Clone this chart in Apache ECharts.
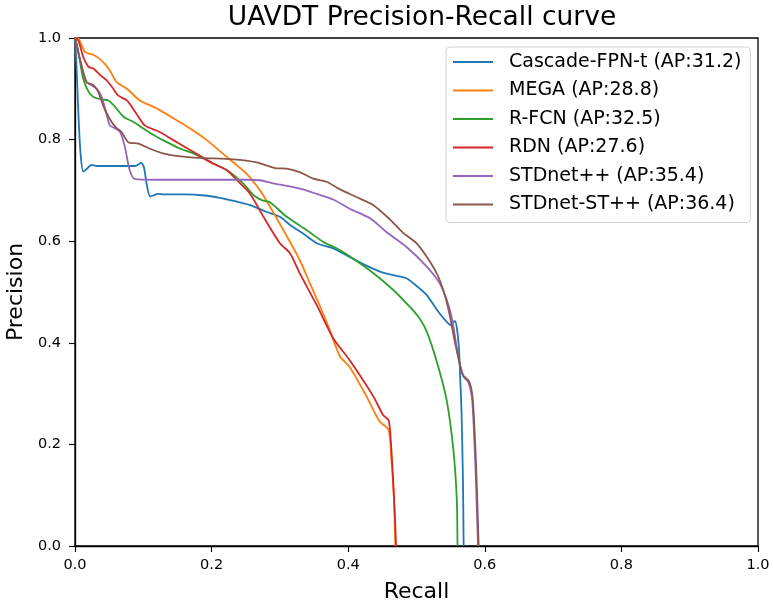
<!DOCTYPE html>
<html>
<head>
<meta charset="utf-8">
<title>UAVDT Precision-Recall curve</title>
<script src="https://cdn.jsdelivr.net/npm/echarts@6/dist/echarts.min.js"></script>
<style>
  html, body { margin: 0; padding: 0; background: #fff; }
  #chart { width: 773px; height: 605px; }
</style>
</head>
<body>
<div id="chart"></div>
<script>
// Precision-recall samples per detector: [recall, precision]
const cascadeFpnT = [
  [0.000, 1.000], [0.002, 0.950], [0.005, 0.850], [0.008, 0.775], [0.012, 0.737],
  [0.017, 0.742], [0.024, 0.750], [0.032, 0.748], [0.050, 0.748], [0.080, 0.748],
  [0.090, 0.749], [0.097, 0.754], [0.101, 0.745], [0.105, 0.712], [0.110, 0.688],
  [0.115, 0.690], [0.121, 0.693], [0.130, 0.692], [0.160, 0.692], [0.190, 0.690],
  [0.210, 0.686], [0.227, 0.681], [0.256, 0.671], [0.280, 0.658], [0.300, 0.648],
  [0.315, 0.632], [0.335, 0.614], [0.354, 0.596], [0.378, 0.586], [0.402, 0.569],
  [0.425, 0.553], [0.451, 0.538], [0.485, 0.527], [0.500, 0.512], [0.515, 0.494],
  [0.532, 0.461], [0.543, 0.443], [0.550, 0.435], [0.553, 0.438], [0.556, 0.443],
  [0.559, 0.430], [0.562, 0.392], [0.564, 0.330], [0.566, 0.261], [0.568, 0.130],
  [0.569, 0.000]
];

const mega = [
  [0.000, 1.000], [0.005, 0.999], [0.015, 0.972], [0.027, 0.967], [0.041, 0.953],
  [0.051, 0.936], [0.061, 0.913], [0.076, 0.900], [0.095, 0.877], [0.120, 0.861],
  [0.149, 0.838], [0.173, 0.818], [0.193, 0.799], [0.222, 0.766], [0.251, 0.733],
  [0.271, 0.700], [0.281, 0.678], [0.305, 0.622], [0.329, 0.563], [0.344, 0.517],
  [0.359, 0.471], [0.371, 0.432], [0.388, 0.373], [0.402, 0.353], [0.427, 0.294],
  [0.446, 0.245], [0.459, 0.229], [0.463, 0.176], [0.467, 0.091], [0.469, 0.000]
];

const rfcn = [
  [0.000, 1.000], [0.003, 0.985], [0.007, 0.956], [0.012, 0.920], [0.020, 0.894],
  [0.027, 0.884], [0.039, 0.879], [0.049, 0.877], [0.059, 0.864], [0.071, 0.845],
  [0.085, 0.835], [0.100, 0.822], [0.120, 0.805], [0.139, 0.792], [0.154, 0.782],
  [0.173, 0.773], [0.198, 0.756], [0.222, 0.740], [0.246, 0.714], [0.262, 0.690],
  [0.275, 0.680], [0.285, 0.677], [0.310, 0.648], [0.339, 0.622], [0.363, 0.599],
  [0.383, 0.586], [0.407, 0.566], [0.437, 0.537], [0.466, 0.504], [0.490, 0.471],
  [0.505, 0.447], [0.515, 0.422], [0.529, 0.366], [0.544, 0.288], [0.554, 0.189],
  [0.559, 0.091], [0.560, 0.000]
];

const rdn = [
  [0.000, 1.000], [0.005, 0.995], [0.012, 0.963], [0.020, 0.943], [0.027, 0.940],
  [0.037, 0.927], [0.046, 0.917], [0.054, 0.904], [0.063, 0.887], [0.076, 0.877],
  [0.090, 0.851], [0.102, 0.828], [0.124, 0.815], [0.144, 0.799], [0.173, 0.776],
  [0.202, 0.753], [0.222, 0.740], [0.237, 0.720], [0.256, 0.694], [0.276, 0.648],
  [0.300, 0.596], [0.315, 0.576], [0.329, 0.537], [0.354, 0.474], [0.378, 0.409],
  [0.402, 0.366], [0.437, 0.294], [0.451, 0.258], [0.459, 0.248], [0.462, 0.215],
  [0.466, 0.124], [0.469, 0.040], [0.470, 0.000]
];

const stdnetPP = [
  [0.000, 1.000], [0.010, 0.943], [0.017, 0.913], [0.024, 0.907], [0.032, 0.900],
  [0.039, 0.884], [0.046, 0.851], [0.051, 0.828], [0.059, 0.822], [0.066, 0.815],
  [0.073, 0.786], [0.080, 0.740], [0.088, 0.722], [0.120, 0.721], [0.200, 0.721],
  [0.250, 0.721], [0.271, 0.720], [0.290, 0.714], [0.310, 0.709], [0.334, 0.702],
  [0.354, 0.693], [0.378, 0.682], [0.402, 0.664], [0.432, 0.645], [0.456, 0.618],
  [0.485, 0.589], [0.515, 0.550], [0.534, 0.517], [0.546, 0.478], [0.553, 0.440],
  [0.561, 0.373], [0.568, 0.335], [0.576, 0.322], [0.581, 0.294], [0.584, 0.229],
  [0.587, 0.130], [0.590, 0.000]
];

const stdnetStPP = [
  [0.000, 1.000], [0.010, 0.943], [0.017, 0.913], [0.027, 0.907], [0.034, 0.894],
  [0.041, 0.868], [0.049, 0.845], [0.059, 0.825], [0.068, 0.815], [0.078, 0.795],
  [0.093, 0.792], [0.110, 0.782], [0.129, 0.773], [0.154, 0.767], [0.183, 0.764],
  [0.232, 0.761], [0.266, 0.755], [0.293, 0.744], [0.310, 0.743], [0.329, 0.736],
  [0.349, 0.723], [0.368, 0.717], [0.388, 0.702], [0.412, 0.687], [0.437, 0.671],
  [0.461, 0.643], [0.480, 0.617], [0.500, 0.596], [0.520, 0.559], [0.532, 0.530],
  [0.542, 0.491], [0.549, 0.452], [0.555, 0.410], [0.561, 0.373], [0.568, 0.337],
  [0.577, 0.324], [0.582, 0.294], [0.585, 0.229], [0.588, 0.130], [0.591, 0.000]
];

const seriesNames = [
  'Cascade-FPN-t (AP:31.2)',
  'MEGA (AP:28.8)',
  'R-FCN (AP:32.5)',
  'RDN (AP:27.6)',
  'STDnet++ (AP:35.4)',
  'STDnet-ST++ (AP:36.4)'
];
const seriesData = [cascadeFpnT, mega, rfcn, rdn, stdnetPP, stdnetStPP];
const seriesColors = ['#1f77b4', '#ff7f0e', '#2ca02c', '#d62728', '#9467bd', '#8c564b'];

const font = 'DejaVu Sans';
const chart = echarts.init(document.getElementById('chart'), null, { renderer: 'canvas' });

const axisCommon = {
  type: 'value', min: 0, max: 1, interval: 0.2,
  nameLocation: 'middle',
  nameTextStyle: { fontFamily: font, fontSize: 22, color: '#000' },
  axisLine: { show: true, lineStyle: { color: '#000', width: 1.3 } },
  axisTick: { show: true, inside: false, length: 6, lineStyle: { color: '#000', width: 1.1 } },
  splitLine: { show: false }
};

chart.setOption({
  animation: false,
  backgroundColor: '#ffffff',
  textStyle: { fontFamily: font },
  title: {
    text: 'UAVDT Precision-Recall curve',
    left: 417,
    top: 0,
    textAlign: 'center',
    textStyle: { fontFamily: font, fontSize: 26.5, fontWeight: 'normal', color: '#000' }
  },
  grid: {
    left: 75, right: 15, top: 38, bottom: 59,
    outerBoundsMode: 'none',
    containLabel: false,
    show: true, borderColor: '#000', borderWidth: 1.3, backgroundColor: 'transparent'
  },
  legend: {
    orient: 'vertical',
    left: 446, top: 47,
    padding: [5, 9, 8, 7],
    icon: 'rect',
    itemWidth: 40, itemHeight: 2, itemGap: 8.5,
    backgroundColor: 'rgba(255,255,255,0.8)',
    borderColor: '#d4d4d4', borderWidth: 1, borderRadius: 4,
    textStyle: { fontFamily: font, fontSize: 19, color: '#000', lineHeight: 20, padding: [0, 0, 0, 11] },
    data: seriesNames
  },
  xAxis: Object.assign({}, axisCommon, {
    name: 'Recall', nameGap: 35,
    axisLabel: { fontFamily: font, fontSize: 14.5, color: '#000', margin: 12, formatter: v => v.toFixed(1) }
  }),
  yAxis: Object.assign({}, axisCommon, {
    name: 'Precision', nameGap: 48, nameRotate: 90,
    axisLabel: { fontFamily: font, fontSize: 14.5, color: '#000', margin: 14, formatter: v => v.toFixed(1) }
  }),
  series: seriesNames.map((name, i) => ({
    name: name,
    type: 'line',
    data: seriesData[i],
    symbol: 'none',
    smooth: 0.25,
    color: seriesColors[i],
    lineStyle: { width: 1.8, color: seriesColors[i] },
    z: 2 + i
  }))
});
</script>
</body>
</html>
